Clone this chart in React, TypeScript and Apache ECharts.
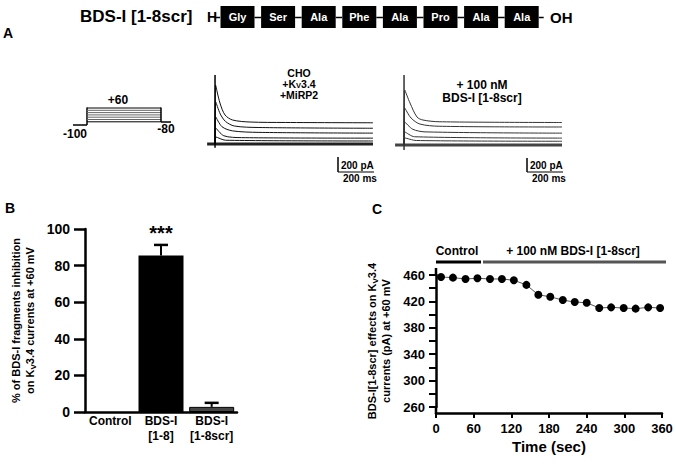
import React, { useEffect, useRef } from 'react';
import * as echarts from 'echarts';

const FONT = '"Liberation Sans", Arial, Helvetica, sans-serif';

// Peptide sequence (header)
const peptide = ['Gly', 'Ser', 'Ala', 'Phe', 'Ala', 'Pro', 'Ala', 'Ala'];

// Panel B
const barCategories = ['Control', 'BDS-I\n[1-8]', 'BDS-I\n[1-8scr]'];
const barMeans = [0, 85.5, 2.8];
const barErrUpper = [0, 91.3, 5.0];
const barColors = ['#000000', '#000000', '#454545'];

// Panel C
const timeSec = [8, 27, 47, 66, 86, 105, 124, 144, 163, 182, 202, 221, 240, 260, 279, 299, 318, 338, 357];
const currentPA = [457, 456, 454, 455, 454, 454, 452, 445, 430, 427, 422, 419, 418, 410, 411, 410, 409, 411, 410];

// Panel A traces (ms, pA)
const ctrlTrace1 = [[0, 0], [3, 787], [28, 547], [57, 387], [100, 320], [200, 293], [400, 287], [900, 283]];
const ctrlTrace2 = [[0, 0], [4, 560], [30, 400], [60, 300], [110, 240], [250, 220], [900, 210]];
const ctrlTrace3 = [[0, 0], [4, 360], [40, 230], [100, 175], [250, 155], [900, 145]];
const ctrlTrace4 = [[0, 0], [4, 213], [50, 110], [150, 85], [900, 78]];
const ctrlTrace5 = [[0, 0], [5, 93], [60, 50], [900, 40]];
const ctrlBaseline = [[-45, 0], [900, 0]];
const ctrlSpike = [[0, -50], [0, 920]];

const scrTrace1 = [[0, 0], [4, 733], [34, 560], [74, 373], [108, 333], [200, 310], [900, 300]];
const scrTrace2 = [[0, 0], [4, 493], [40, 360], [90, 280], [200, 250], [900, 240]];
const scrTrace3 = [[0, 0], [4, 307], [50, 210], [120, 175], [900, 158]];
const scrTrace4 = [[0, 0], [5, 173], [60, 110], [900, 92]];
const scrTrace5 = [[0, 0], [5, 93], [70, 60], [900, 50]];
const scrBaseline = [[-51, 0], [900, 0]];
const scrSpike = [[0, -67], [0, 933]];

const ctrlTraces = [ctrlTrace1, ctrlTrace2, ctrlTrace3, ctrlTrace4, ctrlTrace5];
const scrTraces = [scrTrace1, scrTrace2, scrTrace3, scrTrace4, scrTrace5];

const bold = (size: number, extra: any = {}) => ({
  fontFamily: FONT,
  fontWeight: 'bold',
  fontSize: size,
  fill: '#000',
  ...extra,
});

function txt(text: string, x: number, y: number, size: number, align = 'center', extra: any = {}) {
  return {
    type: 'text',
    x,
    y,
    style: { text, ...bold(size), align, verticalAlign: 'middle', ...extra },
  };
}

function ln(x1: number, y1: number, x2: number, y2: number, stroke = '#000', lineWidth = 1) {
  return { type: 'line', shape: { x1, y1, x2, y2 }, style: { stroke, lineWidth } };
}

function buildGraphic() {
  const g: any[] = [];
  // Header
  g.push(txt('BDS-I [1-8scr]', 80, 16, 17, 'left'));
  g.push(txt('H', 207, 17, 14, 'left'));
  g.push(ln(215, 17.5, 220, 17.5, '#000', 1.5));
  const x0 = 220.5;
  const step = 40.6;
  const w = 34;
  peptide.forEach((p, i) => {
    const x = x0 + i * step;
    g.push({ type: 'rect', shape: { x, y: 6, width: w, height: 22 }, style: { fill: '#000' } });
    g.push(txt(p, x + w / 2, 17, 11, 'center', { fill: '#fff' }));
    if (i < peptide.length - 1) g.push(ln(x + w, 17.5, x + step, 17.5, '#000', 1.5));
  });
  const lastEnd = x0 + (peptide.length - 1) * step + w;
  g.push(ln(lastEnd, 17.5, lastEnd + 5, 17.5, '#000', 1.5));
  g.push(txt('OH', 550, 17, 15, 'left'));

  // Panel letters
  g.push(txt('A', 3, 33, 14, 'left'));
  g.push(txt('B', 5, 208, 14, 'left'));
  g.push(txt('C', 372, 209, 14, 'left'));

  // Voltage protocol
  g.push(ln(73, 125, 87, 125, '#000', 1.5));
  g.push(ln(87, 125, 87, 107.5, '#000', 1.5));
  for (let k = 0; k < 7; k++) {
    const y = 108 + k * 2.3;
    g.push(ln(87, y, 161, y, k === 0 || k === 6 ? '#000' : '#666', 1));
  }
  g.push(ln(161, 107.5, 161, 122, '#000', 1.5));
  g.push(ln(161, 122, 171, 122, '#000', 1.5));
  g.push(txt('+60', 118, 100, 12));
  g.push(txt('-100', 75, 134, 12));
  g.push(txt('-80', 166, 129, 12));

  // Trace labels
  g.push(txt('CHO', 299, 72.5, 10.5));
  g.push({
    type: 'text',
    x: 299,
    y: 83.5,
    style: {
      text: '{b|+K}{s|V}{b|3.4}',
      align: 'center',
      verticalAlign: 'middle',
      fontFamily: FONT,
      rich: {
        b: { fontFamily: FONT, fontWeight: 'bold', fontSize: 10.5, lineHeight: 10, fill: '#000' },
        s: { fontFamily: FONT, fontWeight: 'bold', fontSize: 7.5, lineHeight: 8, fill: '#000', padding: [3, 0, 0, 0] },
      },
    },
  });
  g.push(txt('+MiRP2', 299, 94.5, 10.5));
  g.push(txt('+ 100 nM', 482, 84.5, 12));
  g.push(txt('BDS-I [1-8scr]', 482, 97.5, 12));

  // Scale bars
  g.push(ln(338, 157, 338, 172, '#000', 1.5));
  g.push(ln(338, 172, 374, 172, '#000', 1.2));
  g.push(txt('200 pA', 341, 165, 10, 'left'));
  g.push(txt('200 ms', 343, 178, 10, 'left'));
  g.push(ln(527, 158, 527, 172, '#000', 1.5));
  g.push(ln(527, 172, 563, 172, '#000', 1.2));
  g.push(txt('200 pA', 530, 165, 10, 'left'));
  g.push(txt('200 ms', 532, 178, 10, 'left'));

  // Panel C condition bars
  g.push(txt('Control', 457, 251, 12));
  g.push(txt('+ 100 nM BDS-I [1-8scr]', 573, 251, 12));
  g.push(ln(436, 262, 481, 262, '#000', 3));
  g.push(ln(483, 262, 666, 262, '#555', 3));

  // Panel C y-axis line extensions (axis runs slightly beyond 260-460)
  g.push(ln(436, 268, 436, 276, '#000', 2.5));
  g.push(ln(436, 406, 436, 414, '#000', 2.5));
  return g;
}

function traceSeries(data: number[][], idx: number, color: string, width = 1) {
  return {
    type: 'line',
    xAxisIndex: idx,
    yAxisIndex: idx,
    data,
    showSymbol: false,
    symbol: 'none',
    smooth: 0.3,
    lineStyle: { color, width },
    silent: true,
  };
}

export default function App() {
  const ref = useRef<HTMLDivElement>(null);

  useEffect(() => {
    if (!ref.current) return;
    const chart = echarts.init(ref.current, undefined, { renderer: 'svg' });

    const axisLabelB = { color: '#000', fontFamily: FONT, fontWeight: 'bold' as const };

    const option: any = {
      animation: false,
      textStyle: { fontFamily: FONT },
      grid: [
        { left: 85, top: 229, width: 152, height: 183 },
        { left: 436, top: 275, width: 226, height: 132 },
        { left: 204.5, top: 69, width: 168.5, height: 81 },
        { left: 393.5, top: 70, width: 168.5, height: 81 },
      ],
      xAxis: [
        {
          gridIndex: 0,
          type: 'category',
          data: barCategories,
          axisLine: { lineStyle: { color: '#000', width: 2.5 } },
          axisTick: { show: false },
          axisLabel: { ...axisLabelB, fontSize: 12, lineHeight: 15, margin: 1, interval: 0 },
        },
        {
          gridIndex: 1,
          type: 'value',
          min: 0,
          max: 360,
          interval: 60,
          offset: 6,
          axisLine: { show: true, onZero: false, lineStyle: { color: '#000', width: 2.5 } },
          axisTick: { show: true, length: 5, lineStyle: { color: '#000', width: 2 } },
          axisLabel: { ...axisLabelB, fontSize: 13, margin: 9 },
          splitLine: { show: false },
          name: 'Time (sec)',
          nameLocation: 'middle',
          nameGap: 26,
          nameTextStyle: { color: '#000', fontFamily: FONT, fontWeight: 'bold', fontSize: 15 },
        },
        { gridIndex: 2, type: 'value', min: -60, max: 900, show: false },
        { gridIndex: 3, type: 'value', min: -60, max: 900, show: false },
      ],
      yAxis: [
        {
          gridIndex: 0,
          type: 'value',
          min: 0,
          max: 100,
          interval: 20,
          axisLine: { show: true, lineStyle: { color: '#000', width: 2.5 } },
          axisTick: { show: true, length: 11, lineStyle: { color: '#000', width: 2.5 } },
          axisLabel: { ...axisLabelB, fontSize: 14, margin: 15 },
          splitLine: { show: false },
          name: '{a|% of BDS-I fragments inhibition}\n{a|on K}{s|V}{a|3.4 currents at +60 mV}',
          nameLocation: 'middle',
          nameRotate: 90,
          nameGap: 48,
          nameTextStyle: {
            rich: {
              a: { fontFamily: FONT, fontWeight: 'bold', fontSize: 11, lineHeight: 14, color: '#000' },
              s: { fontFamily: FONT, fontWeight: 'bold', fontSize: 8, lineHeight: 14, color: '#000', padding: [6, 0, 0, 0] },
            },
          },
        },
        {
          gridIndex: 1,
          type: 'value',
          min: 260,
          max: 460,
          interval: 20,
          axisLine: { show: true, onZero: false, lineStyle: { color: '#000', width: 2.5 } },
          axisTick: { show: true, length: 7, lineStyle: { color: '#000', width: 2 } },
          axisLabel: {
            ...axisLabelB,
            fontSize: 13,
            margin: 11,
            formatter: (v: number) => ((v - 260) % 40 === 0 ? String(v) : ''),
          },
          splitLine: { show: false },
          name: '{a|BDS-I[1-8scr] effects on K}{s|V}{a|3.4}\n{a|currents (pA) at +60 mV}',
          nameLocation: 'middle',
          nameRotate: 90,
          nameGap: 43,
          nameTextStyle: {
            rich: {
              a: { fontFamily: FONT, fontWeight: 'bold', fontSize: 11, lineHeight: 14, color: '#000' },
              s: { fontFamily: FONT, fontWeight: 'bold', fontSize: 8, lineHeight: 14, color: '#000', padding: [6, 0, 0, 0] },
            },
          },
        },
        { gridIndex: 2, type: 'value', min: -80, max: 1000, show: false },
        { gridIndex: 3, type: 'value', min: -80, max: 1000, show: false },
      ],
      series: [
        {
          type: 'bar',
          xAxisIndex: 0,
          yAxisIndex: 0,
          barWidth: 45,
          data: barMeans.map((v, i) => ({
            value: v,
            itemStyle: { color: barColors[i], borderColor: '#000', borderWidth: i === 2 ? 1 : 0 },
            label:
              i === 1
                ? {
                    show: true,
                    position: 'top',
                    formatter: '***',
                    distance: 13,
                    fontFamily: FONT,
                    fontWeight: 'bold',
                    fontSize: 20,
                    color: '#000',
                  }
                : { show: false },
          })),
        },
        {
          type: 'custom',
          xAxisIndex: 0,
          yAxisIndex: 0,
          z: 3,
          data: barMeans.map((m, i) => [i, m, barErrUpper[i]]),
          renderItem: (_p: any, api: any) => {
            const i = api.value(0);
            const m = api.value(1);
            const u = api.value(2);
            if (!(u > m)) return { type: 'group', children: [] };
            const p0 = api.coord([i, m]);
            const p1 = api.coord([i, u]);
            const half = 7;
            return {
              type: 'group',
              children: [
                { type: 'line', shape: { x1: p0[0], y1: p0[1], x2: p1[0], y2: p1[1] }, style: { stroke: '#000', lineWidth: 2 } },
                { type: 'line', shape: { x1: p1[0] - half, y1: p1[1], x2: p1[0] + half, y2: p1[1] }, style: { stroke: '#000', lineWidth: 2.5 } },
              ],
            };
          },
        },
        {
          type: 'line',
          xAxisIndex: 1,
          yAxisIndex: 1,
          data: timeSec.map((t, i) => [t, currentPA[i]]),
          symbol: 'circle',
          symbolSize: 8,
          itemStyle: { color: '#000' },
          lineStyle: { color: '#555', width: 1 },
        },
        traceSeries(ctrlBaseline, 2, '#222', 3),
        ...ctrlTraces.map((d) => traceSeries(d, 2, '#111', 1)),
        traceSeries(ctrlSpike, 2, '#000', 1.5),
        traceSeries(scrBaseline, 3, '#444', 3),
        ...scrTraces.map((d) => traceSeries(d, 3, '#333', 1)),
        traceSeries(scrSpike, 3, '#333', 1.5),
      ],
      graphic: buildGraphic(),
    };

    chart.setOption(option);
    return () => chart.dispose();
  }, []);

  return (
    <div
      ref={ref}
      style={{ position: 'absolute', left: 0, top: 0, width: 676, height: 466, background: '#fff' }}
    />
  );
}
